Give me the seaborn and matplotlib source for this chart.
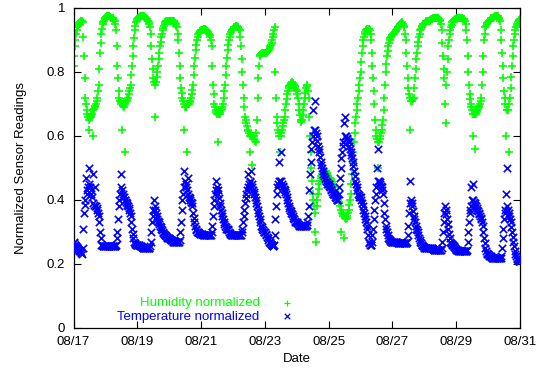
import numpy as np
import pandas as pd
import matplotlib
matplotlib.use("Agg")
import matplotlib.pyplot as plt
import matplotlib.dates as mdates
import seaborn as sns

# Half-hourly readings, one list per day (08/17 ... 08/30),
# plus the final reading at 08/31 00:00
temperature_by_day = [
    [0.27,0.265,0.26,0.258,0.255,0.252,0.25,0.248,0.245,0.242,0.24,0.238,0.235,0.232,0.25,0.31,0.36,0.385,0.40,0.47,0.42,0.43,0.44,0.50,0.45,0.44,0.43,0.42,0.41,0.48,0.39,0.385,0.38,0.44,0.38,0.375,0.37,0.36,0.35,0.33,0.30,0.28,0.26,0.258,0.255,0.255,0.255,0.255],
    [0.255,0.255,0.255,0.255,0.255,0.255,0.255,0.255,0.255,0.255,0.255,0.255,0.255,0.255,0.255,0.255,0.26,0.28,0.30,0.34,0.38,0.40,0.42,0.48,0.44,0.43,0.42,0.41,0.41,0.40,0.40,0.395,0.39,0.385,0.38,0.375,0.37,0.36,0.35,0.33,0.31,0.295,0.28,0.27,0.265,0.262,0.26,0.26],
    [0.26,0.26,0.26,0.258,0.255,0.255,0.255,0.252,0.25,0.25,0.25,0.25,0.25,0.25,0.25,0.25,0.25,0.25,0.25,0.255,0.27,0.30,0.33,0.35,0.37,0.40,0.38,0.37,0.36,0.35,0.34,0.335,0.33,0.325,0.32,0.315,0.31,0.305,0.30,0.298,0.295,0.292,0.29,0.288,0.285,0.282,0.28,0.28],
    [0.28,0.278,0.275,0.275,0.275,0.272,0.27,0.27,0.27,0.27,0.27,0.27,0.27,0.27,0.27,0.27,0.275,0.30,0.33,0.37,0.40,0.42,0.44,0.49,0.46,0.45,0.44,0.43,0.42,0.47,0.41,0.405,0.40,0.395,0.39,0.38,0.36,0.345,0.33,0.32,0.31,0.305,0.30,0.30,0.30,0.298,0.295,0.295],
    [0.295,0.295,0.295,0.292,0.29,0.29,0.29,0.29,0.29,0.29,0.29,0.29,0.29,0.29,0.29,0.29,0.30,0.32,0.35,0.38,0.40,0.42,0.43,0.46,0.44,0.43,0.42,0.405,0.39,0.38,0.37,0.36,0.35,0.34,0.33,0.325,0.32,0.315,0.31,0.31,0.31,0.305,0.30,0.298,0.295,0.292,0.29,0.29],
    [0.29,0.29,0.29,0.29,0.29,0.29,0.29,0.29,0.29,0.29,0.29,0.29,0.29,0.30,0.31,0.33,0.35,0.37,0.39,0.405,0.42,0.43,0.44,0.48,0.45,0.455,0.46,0.49,0.45,0.44,0.43,0.425,0.42,0.41,0.40,0.39,0.38,0.37,0.36,0.35,0.34,0.33,0.32,0.315,0.31,0.305,0.30,0.30],
    [0.30,0.295,0.29,0.285,0.28,0.275,0.27,0.268,0.265,0.262,0.26,0.258,0.255,0.255,0.26,0.29,0.34,0.38,0.42,0.44,0.45,0.52,0.46,0.46,0.46,0.55,0.45,0.445,0.44,0.435,0.43,0.425,0.42,0.41,0.40,0.39,0.38,0.375,0.37,0.365,0.36,0.355,0.35,0.345,0.34,0.335,0.33,0.33],
    [0.33,0.328,0.325,0.322,0.32,0.32,0.32,0.32,0.32,0.32,0.32,0.32,0.32,0.32,0.32,0.322,0.33,0.35,0.38,0.43,0.48,0.52,0.56,0.58,0.60,0.68,0.62,0.71,0.62,0.61,0.60,0.585,0.57,0.56,0.55,0.535,0.52,0.51,0.50,0.49,0.48,0.475,0.47,0.465,0.46,0.455,0.45,0.45],
    [0.45,0.445,0.44,0.435,0.43,0.425,0.42,0.42,0.42,0.415,0.41,0.405,0.40,0.40,0.40,0.42,0.44,0.47,0.50,0.53,0.55,0.57,0.58,0.64,0.60,0.66,0.60,0.595,0.59,0.585,0.58,0.57,0.56,0.55,0.54,0.53,0.52,0.505,0.49,0.475,0.46,0.45,0.44,0.43,0.42,0.415,0.41,0.41],
    [0.41,0.40,0.39,0.38,0.37,0.36,0.35,0.34,0.33,0.32,0.31,0.29,0.27,0.265,0.26,0.26,0.26,0.27,0.29,0.31,0.34,0.37,0.40,0.42,0.44,0.50,0.46,0.56,0.46,0.455,0.45,0.445,0.44,0.43,0.42,0.39,0.36,0.34,0.32,0.31,0.30,0.29,0.28,0.278,0.275,0.272,0.27,0.27],
    [0.27,0.27,0.27,0.27,0.27,0.27,0.27,0.268,0.265,0.265,0.265,0.265,0.265,0.265,0.265,0.265,0.265,0.265,0.265,0.265,0.265,0.265,0.27,0.29,0.32,0.36,0.39,0.46,0.40,0.39,0.38,0.365,0.35,0.34,0.33,0.32,0.31,0.305,0.30,0.29,0.28,0.275,0.27,0.265,0.26,0.258,0.255,0.252],
    [0.25,0.25,0.25,0.25,0.25,0.25,0.25,0.25,0.25,0.25,0.25,0.25,0.25,0.248,0.245,0.245,0.245,0.245,0.245,0.245,0.245,0.245,0.245,0.245,0.245,0.245,0.25,0.27,0.30,0.33,0.36,0.38,0.37,0.355,0.34,0.325,0.31,0.295,0.28,0.27,0.265,0.262,0.26,0.258,0.255,0.252,0.25,0.248],
    [0.245,0.245,0.245,0.242,0.24,0.24,0.24,0.24,0.24,0.24,0.24,0.24,0.24,0.24,0.24,0.24,0.245,0.27,0.30,0.33,0.36,0.37,0.38,0.44,0.40,0.45,0.40,0.395,0.39,0.385,0.38,0.375,0.37,0.365,0.36,0.355,0.35,0.345,0.34,0.33,0.32,0.30,0.28,0.265,0.25,0.24,0.235,0.232],
    [0.23,0.228,0.225,0.225,0.225,0.222,0.22,0.22,0.22,0.22,0.22,0.22,0.22,0.22,0.22,0.22,0.22,0.22,0.22,0.22,0.225,0.25,0.28,0.31,0.34,0.36,0.37,0.42,0.38,0.50,0.37,0.36,0.35,0.34,0.33,0.315,0.30,0.285,0.27,0.255,0.24,0.232,0.225,0.22,0.215,0.212,0.21,0.21],
]
temperature_last = 0.21

humidity_by_day = [
    [0.82,0.85,0.88,0.90,0.92,0.93,0.94,0.945,0.95,0.952,0.955,0.958,0.96,0.96,0.955,0.91,0.85,0.78,0.72,0.70,0.68,0.67,0.66,0.62,0.65,0.655,0.66,0.665,0.67,0.60,0.68,0.685,0.69,0.695,0.70,0.71,0.72,0.74,0.76,0.81,0.86,0.89,0.92,0.935,0.95,0.955,0.96,0.965],
    [0.97,0.972,0.975,0.975,0.975,0.975,0.975,0.972,0.97,0.97,0.97,0.968,0.965,0.962,0.96,0.95,0.93,0.88,0.82,0.78,0.74,0.72,0.71,0.705,0.70,0.62,0.70,0.695,0.69,0.55,0.70,0.705,0.71,0.715,0.72,0.73,0.74,0.75,0.76,0.79,0.82,0.85,0.88,0.905,0.93,0.945,0.955,0.96],
    [0.965,0.968,0.97,0.972,0.975,0.975,0.975,0.975,0.975,0.975,0.975,0.972,0.97,0.968,0.965,0.962,0.96,0.955,0.95,0.94,0.92,0.88,0.84,0.81,0.78,0.77,0.76,0.66,0.77,0.785,0.80,0.82,0.84,0.86,0.88,0.895,0.91,0.92,0.93,0.938,0.945,0.95,0.955,0.958,0.96,0.96,0.96,0.96],
    [0.96,0.96,0.96,0.96,0.96,0.96,0.96,0.958,0.955,0.952,0.95,0.945,0.94,0.92,0.90,0.86,0.82,0.78,0.75,0.735,0.72,0.71,0.70,0.62,0.69,0.69,0.69,0.55,0.70,0.70,0.70,0.705,0.71,0.72,0.73,0.745,0.76,0.79,0.82,0.845,0.87,0.885,0.90,0.91,0.92,0.922,0.925,0.928],
    [0.93,0.93,0.93,0.932,0.935,0.935,0.935,0.932,0.93,0.928,0.925,0.922,0.92,0.915,0.91,0.90,0.88,0.82,0.76,0.73,0.70,0.69,0.68,0.675,0.67,0.58,0.67,0.67,0.67,0.675,0.68,0.685,0.69,0.70,0.72,0.74,0.76,0.79,0.82,0.845,0.87,0.885,0.90,0.91,0.92,0.925,0.93,0.932],
    [0.935,0.938,0.94,0.942,0.945,0.945,0.945,0.942,0.94,0.935,0.93,0.91,0.88,0.84,0.80,0.76,0.72,0.69,0.66,0.65,0.64,0.63,0.62,0.615,0.61,0.55,0.60,0.60,0.60,0.51,0.60,0.60,0.59,0.585,0.58,0.61,0.65,0.72,0.78,0.82,0.85,0.852,0.855,0.858,0.86,0.86,0.86,0.86],
    [0.86,0.86,0.86,0.862,0.865,0.868,0.87,0.875,0.88,0.885,0.89,0.90,0.91,0.92,0.93,0.94,0.80,0.72,0.66,0.64,0.62,0.61,0.60,0.55,0.60,0.61,0.62,0.63,0.64,0.65,0.66,0.68,0.70,0.715,0.73,0.74,0.75,0.755,0.76,0.765,0.76,0.77,0.76,0.765,0.76,0.755,0.75,0.745],
    [0.74,0.73,0.72,0.70,0.68,0.665,0.65,0.645,0.65,0.665,0.68,0.70,0.72,0.735,0.75,0.755,0.76,0.74,0.72,0.66,0.60,0.55,0.50,0.46,0.42,0.40,0.38,0.30,0.36,0.27,0.38,0.40,0.42,0.435,0.45,0.46,0.47,0.475,0.48,0.48,0.48,0.485,0.49,0.49,0.49,0.485,0.48,0.475],
    [0.47,0.47,0.47,0.465,0.46,0.455,0.45,0.445,0.44,0.43,0.42,0.415,0.41,0.405,0.40,0.395,0.39,0.38,0.37,0.30,0.36,0.355,0.35,0.28,0.35,0.345,0.34,0.345,0.35,0.36,0.37,0.385,0.40,0.42,0.45,0.48,0.52,0.55,0.58,0.61,0.64,0.66,0.68,0.70,0.72,0.74,0.76,0.78],
    [0.80,0.83,0.86,0.88,0.90,0.91,0.92,0.925,0.93,0.932,0.935,0.935,0.935,0.935,0.93,0.92,0.90,0.86,0.82,0.78,0.74,0.70,0.65,0.62,0.60,0.59,0.58,0.50,0.58,0.59,0.60,0.61,0.62,0.635,0.65,0.68,0.72,0.76,0.80,0.825,0.85,0.865,0.88,0.89,0.90,0.905,0.91,0.912],
    [0.915,0.918,0.92,0.922,0.925,0.928,0.93,0.935,0.94,0.942,0.945,0.948,0.95,0.952,0.955,0.952,0.95,0.945,0.94,0.92,0.90,0.86,0.82,0.78,0.75,0.73,0.72,0.62,0.71,0.71,0.71,0.715,0.72,0.75,0.78,0.81,0.84,0.86,0.88,0.895,0.91,0.92,0.93,0.935,0.94,0.945,0.95,0.95],
    [0.95,0.952,0.955,0.958,0.96,0.96,0.96,0.96,0.96,0.962,0.965,0.965,0.965,0.968,0.97,0.97,0.97,0.97,0.97,0.97,0.97,0.968,0.965,0.962,0.96,0.95,0.93,0.89,0.85,0.81,0.78,0.70,0.76,0.64,0.80,0.84,0.88,0.90,0.92,0.93,0.94,0.948,0.955,0.958,0.96,0.962,0.965,0.965],
    [0.965,0.968,0.97,0.97,0.97,0.97,0.97,0.97,0.97,0.968,0.965,0.965,0.965,0.96,0.95,0.93,0.90,0.85,0.80,0.76,0.73,0.715,0.70,0.69,0.68,0.60,0.67,0.67,0.67,0.56,0.67,0.675,0.68,0.685,0.69,0.695,0.70,0.71,0.72,0.76,0.80,0.85,0.90,0.92,0.94,0.945,0.95,0.952],
    [0.955,0.958,0.96,0.962,0.965,0.968,0.97,0.97,0.97,0.972,0.975,0.975,0.975,0.975,0.975,0.975,0.97,0.965,0.96,0.93,0.90,0.86,0.82,0.78,0.74,0.72,0.70,0.60,0.68,0.68,0.68,0.55,0.70,0.72,0.75,0.785,0.82,0.85,0.88,0.90,0.92,0.93,0.94,0.945,0.95,0.955,0.96,0.962],
]
humidity_last = 0.965

start_date = "2013-08-17"
end_date = "2013-08-31"
x_tick_dates = ["2013-08-17", "2013-08-19", "2013-08-21", "2013-08-23",
                "2013-08-25", "2013-08-27", "2013-08-29", "2013-08-31"]
y_ticks = [0, 0.2, 0.4, 0.6, 0.8, 1]
y_tick_labels = ["0", "0.2", "0.4", "0.6", "0.8", "1"]


def to_frame(by_day, last):
    start = pd.Timestamp(start_date)
    times, vals = [], []
    for d, day in enumerate(by_day):
        n = len(day)
        for i, v in enumerate(day):
            times.append(start + pd.Timedelta(days=d + i / n))
            vals.append(v)
    times.append(start + pd.Timedelta(days=len(by_day)))
    vals.append(last)
    return pd.DataFrame({"time": times, "value": vals})


hum_df = to_frame(humidity_by_day, humidity_last)
tmp_df = to_frame(temperature_by_day, temperature_last)

sns.set_theme(style="ticks")
plt.rcParams["font.family"] = ["Liberation Sans", "DejaVu Sans"]

GREEN = "#00ff00"
BLUE = "#0000ff"
FS = 9.5

fig = plt.figure(figsize=(5.42, 3.70), dpi=100)
ax = fig.add_axes([73.5 / 542, 42 / 370, 446.5 / 542, 320 / 370])

sns.scatterplot(data=hum_df, x="time", y="value", marker="+", color=GREEN, s=40,
                linewidth=1.2, label="Humidity normalized", ax=ax, zorder=2)
sns.scatterplot(data=tmp_df, x="time", y="value", marker="x", color=BLUE, s=28,
                linewidth=1.2, label="Temperature normalized", ax=ax, zorder=3)

ax.set_xlim(pd.Timestamp(start_date), pd.Timestamp(end_date))
ax.set_ylim(0, 1)
ax.set_xticks(pd.to_datetime(x_tick_dates))
ax.xaxis.set_major_formatter(mdates.DateFormatter("%m/%d"))
ax.set_yticks(y_ticks)
ax.set_yticklabels(y_tick_labels)
ax.minorticks_off()

ax.tick_params(direction="in", top=True, right=True, length=5, width=0.8,
               labelsize=FS, colors="black", pad=6)
for sp in ax.spines.values():
    sp.set_visible(True)
    sp.set_color("black")
    sp.set_linewidth(0.9)

ax.set_xlabel("Date", fontsize=FS, color="black", labelpad=3)
ax.set_ylabel("Normalized Sensor Readings", fontsize=FS, color="black", labelpad=14)

leg = ax.legend(loc="upper right", bbox_to_anchor=(0.492, 0.097), frameon=False,
                markerfirst=False, handletextpad=1.55, labelspacing=0.1,
                fontsize=FS, borderaxespad=0, borderpad=0, handlelength=1.0)
for txt, col in zip(leg.get_texts(), [GREEN, BLUE]):
    txt.set_color(col)
for h in leg.legend_handles:
    try:
        h.set_sizes([16])
        h.set_linewidth(0.9)
    except Exception:
        pass
try:
    for vp in leg._legend_box._children[-1]._children:
        vp.align = "right"
except Exception:
    pass

fig.savefig("out.png", dpi=100)
